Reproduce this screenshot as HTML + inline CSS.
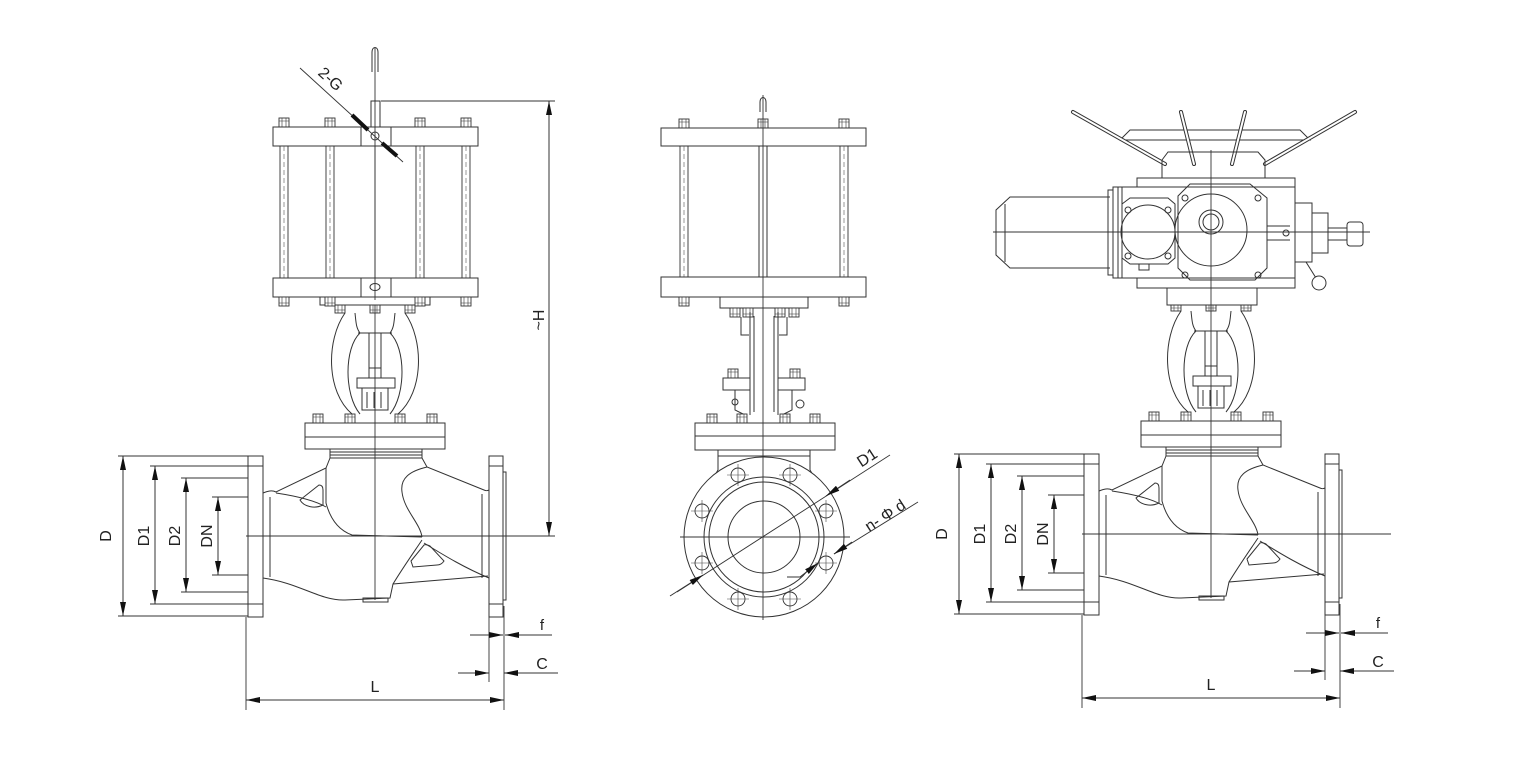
<!DOCTYPE html>
<html><head><meta charset="utf-8"><style>
html,body{margin:0;padding:0;background:#fff;}
svg{display:block;}
text{font-family:"Liberation Sans",sans-serif;fill:#222;}
</style></head><body>
<svg width="1539" height="767" viewBox="0 0 1539 767" xmlns="http://www.w3.org/2000/svg">
<defs>
<marker id="a" viewBox="0 0 14 6" refX="14" refY="3" markerWidth="14" markerHeight="6" markerUnits="userSpaceOnUse" orient="auto-start-reverse"><path d="M0,0 L14,3 L0,6 Z" fill="#111"/></marker>
<g id="nut"><rect x="-5" y="-9" width="10" height="9" fill="#fff" stroke="#333" stroke-width="0.9"/><path d="M-5,-6 H5 M-2,-9 V0 M2,-9 V0" stroke="#333" stroke-width="0.6"/></g>
<g id="nutd"><rect x="-5" y="0" width="10" height="9" fill="#fff" stroke="#333" stroke-width="0.9"/><path d="M-5,6 H5 M-2,0 V9 M2,0 V9" stroke="#333" stroke-width="0.6"/></g>
<g id="rod"><path d="M-4,0 V132 M4,0 V132" stroke="#333" stroke-width="0.9"/><path d="M0,0 V132" stroke="#555" stroke-width="0.6" stroke-dasharray="5,3"/></g>
<g id="hole"><circle r="7" fill="none" stroke="#333" stroke-width="0.9"/><path d="M-11,0 H11 M0,-11 V11" stroke="#444" stroke-width="0.6"/></g>
</defs>

<g id="lower" fill="none" stroke="#333" stroke-width="1">
 <use href="#nutd" x="340" y="304"/><use href="#nutd" x="375" y="304"/><use href="#nutd" x="410" y="304"/>
 <path d="M345,313 C326,340 326,392 352,414 M405,313 C424,340 424,392 398,414"/>
 <path d="M355,313 C356,322 356,328 360,333 M395,313 C394,322 394,328 390,333 M358,333 H392"/>
 <path d="M360,333 C344,348 344,395 360,414 M390,333 C406,348 406,395 390,414"/>
 <path d="M369,333 V378 M381,333 V378"/>
 <rect x="369" y="368" width="12" height="10" fill="#fff"/>
 <rect x="357" y="378" width="38" height="10" fill="#fff"/>
 <path d="M362,388 V410 H388 V388 M367,392 V408 M374,392 V408 M381,392 V408"/>
 <use href="#nut" x="318" y="423"/><use href="#nut" x="350" y="423"/><use href="#nut" x="400" y="423"/><use href="#nut" x="432" y="423"/>
 <rect x="305" y="423" width="140" height="26" fill="#fff"/>
 <path d="M305,437 H445"/>
 <path d="M330,449 V458 M422,449 V458 M330,452 H422 M330,455 H422 M330,458 H422"/>
 <path d="M263,493 C268,491 272,490 276,492 L326,468 L330,458"/>
 <path d="M326,468 V503 C330,518 338,530 352,535 L422,537"/>
 <path d="M422,458 L427,467 L484,490 C486,491 487,491 489,490"/>
 <path d="M427,467 C410,471 400,478 402,492 C404,510 420,523 422,537"/>
 <path d="M276,493 C296,496 314,500 326,507"/>
 <path d="M300,500 L319,485 C322,485 323,487 323,490 L323,505 C315,509 304,507 300,500 Z"/>
 <path d="M263,578 C300,583 320,601 345,600 L390,598 L393,584 L488,576"/>
 <path d="M422,540 C414,552 404,566 393,584"/>
 <path d="M411,561 L424,545 C426,544 428,545 430,546 L444,561 C442,564 440,565 437,565 L413,567 Z"/>
 <path d="M424,543 C445,556 465,568 489,578"/>
 <path d="M270,497 V577 M482,494 V578"/>
 <rect x="363" y="598" width="25" height="4"/>
 <rect x="248" y="456" width="15" height="161" fill="#fff"/>
 <path d="M248,466 H263 M248,604 H263"/>
 <rect x="489" y="456" width="14" height="161" fill="#fff"/>
 <path d="M489,466 H503 M489,604 H503 M503,472 H506 V600 H503"/>
 <path d="M246,536 H555" stroke-width="0.9"/>
 <path d="M375,290 V600" stroke-width="0.9"/>
 <path d="M118,456 H248 M118,616 H248 M150,466 H248 M150,604 H248 M181,478 H248 M181,592 H248 M212,497 H248 M212,575 H248" stroke-width="0.9"/>
 <path d="M246,617 V710 M489,617 V682 M504,606 V710" stroke-width="0.9"/>
 <path d="M123,456 V616" marker-start="url(#a)" marker-end="url(#a)"/>
 <path d="M155,466 V604" marker-start="url(#a)" marker-end="url(#a)"/>
 <path d="M186,478 V592" marker-start="url(#a)" marker-end="url(#a)"/>
 <path d="M218,497 V575" marker-start="url(#a)" marker-end="url(#a)"/>
 <path d="M246,700 H504" marker-start="url(#a)" marker-end="url(#a)"/>
 <path d="M470,635 H503" marker-end="url(#a)"/>
 <path d="M552,635 H505" marker-end="url(#a)"/>
 <path d="M458,673 H489" marker-end="url(#a)"/>
 <path d="M558,673 H504" marker-end="url(#a)"/>
 <text x="111" y="536" font-size="16" transform="rotate(-90 111 536)" text-anchor="middle" stroke="none">D</text>
 <text x="149" y="536" font-size="16" transform="rotate(-90 149 536)" text-anchor="middle" stroke="none">D1</text>
 <text x="180" y="536" font-size="16" transform="rotate(-90 180 536)" text-anchor="middle" stroke="none">D2</text>
 <text x="212" y="536" font-size="16" transform="rotate(-90 212 536)" text-anchor="middle" stroke="none">DN</text>
 <text x="375" y="692" font-size="16" text-anchor="middle" stroke="none">L</text>
 <text x="542" y="630" font-size="15" text-anchor="middle" stroke="none">f</text>
 <text x="542" y="669" font-size="16" text-anchor="middle" stroke="none">C</text>
</g>

<g fill="none" stroke="#333" stroke-width="1">
 <path d="M375,48 V290" stroke-width="0.9"/>
 <path d="M372,72 V52 C372,46 378,46 378,52 V72"/>
 <rect x="371" y="101" width="9" height="26" fill="#fff"/>
 <use href="#nut" x="284" y="127"/><use href="#nut" x="330" y="127"/><use href="#nut" x="420" y="127"/><use href="#nut" x="466" y="127"/>
 <rect x="273" y="127" width="205" height="19" fill="#fff"/>
 <path d="M361,127 V146 M391,127 V146"/>
 <circle cx="375" cy="136" r="4"/>
 <use href="#rod" x="284" y="146"/><use href="#rod" x="330" y="146"/><use href="#rod" x="420" y="146"/><use href="#rod" x="466" y="146"/>
 <rect x="273" y="278" width="205" height="19" fill="#fff"/>
 <path d="M361,278 V297 M391,278 V297"/>
 <ellipse cx="375" cy="287" rx="5" ry="3.5"/>
 <rect x="320" y="297" width="110" height="8" fill="#fff"/>
 <use href="#nutd" x="284" y="297"/><use href="#nutd" x="330" y="297"/><use href="#nutd" x="420" y="297"/><use href="#nutd" x="466" y="297"/>
 <path d="M375,100 V300" stroke-width="0.9"/>
 <path d="M381,101 H555" stroke-width="0.9"/>
 <path d="M549,101 V536" marker-start="url(#a)" marker-end="url(#a)"/>
 <text x="544" y="320" font-size="16" transform="rotate(-90 544 320)" text-anchor="middle" stroke="none">~H</text>
 <path d="M300,68 L403,162" stroke-width="0.9"/>
 <path d="M352,115 L368,130" stroke="#111" stroke-width="4"/>
 <path d="M382,143 L397,156" stroke="#111" stroke-width="4"/>
 <text x="327" y="83" font-size="16" transform="rotate(42 327 83)" text-anchor="middle" stroke="none">2-G</text>
</g>

<use href="#lower" transform="translate(836,-2)"/>

<g fill="none" stroke="#333" stroke-width="1">
 <path d="M760,112 V102 C760,96 766,96 766,102 V112"/>
 <use href="#nut" x="684" y="128"/><use href="#nut" x="763" y="128"/><use href="#nut" x="844" y="128"/>
 <rect x="661" y="128" width="205" height="18" fill="#fff"/>
 <use href="#rod" x="684" y="146"/><use href="#rod" x="844" y="146"/>
 <path d="M759,146 V277 M767,146 V277"/>
 <rect x="661" y="277" width="205" height="20" fill="#fff"/>
 <use href="#nutd" x="684" y="297"/><use href="#nutd" x="844" y="297"/>
 <rect x="720" y="297" width="88" height="11" fill="#fff"/>
 <use href="#nutd" x="735" y="308"/><use href="#nutd" x="748" y="308"/><use href="#nutd" x="780" y="308"/><use href="#nutd" x="794" y="308"/>
 <path d="M750,312 V415 M778,312 V415 M754,316 V412 M774,316 V412"/>
 <path d="M741,317 V335 H749 M787,317 V335 H779"/>
 <use href="#nut" x="733" y="378"/><use href="#nut" x="795" y="378"/>
 <rect x="723" y="378" width="27" height="12" fill="#fff"/><rect x="778" y="378" width="27" height="12" fill="#fff"/>
 <path d="M735,390 V410 L745,415 M792,390 V410 L782,415"/>
 <circle cx="735" cy="402" r="3"/><circle cx="800" cy="404" r="4"/>
 <use href="#nut" x="712" y="423"/><use href="#nut" x="742" y="423"/><use href="#nut" x="785" y="423"/><use href="#nut" x="815" y="423"/>
 <rect x="695" y="423" width="140" height="27" fill="#fff"/>
 <path d="M695,436 H835"/>
 <path d="M718,450 V470 L712,480 M810,450 V470 L816,480 M718,456 H810"/>
 <circle cx="764" cy="537" r="80" fill="#fff"/>
 <circle cx="764" cy="537" r="60"/>
 <circle cx="764" cy="537" r="55"/>
 <circle cx="764" cy="537" r="36"/>
 <path d="M680,537 H850" stroke-width="0.9"/>
 <path d="M763,95 V620" stroke-width="0.9"/>
 <use href="#hole" x="826" y="511"/><use href="#hole" x="790" y="475"/><use href="#hole" x="738" y="475"/><use href="#hole" x="702" y="511"/>
 <use href="#hole" x="702" y="563"/><use href="#hole" x="738" y="599"/><use href="#hole" x="790" y="599"/><use href="#hole" x="826" y="563"/>
 <path d="M677,592 L890,455" stroke-width="0.9"/>
 <path d="M670,596 L703,575" marker-end="url(#a)"/>
 <path d="M850,480 L826,496" marker-end="url(#a)"/>
 <path d="M787,577 H800 L818,563" marker-end="url(#a)"/>
 <path d="M918,502 L834,554" stroke-width="0.9"/>
 <path d="M852,542 L834,554" marker-end="url(#a)"/>
 <text x="870" y="462" font-size="16" transform="rotate(-33 870 462)" text-anchor="middle" stroke="none">D1</text>
 <text x="888" y="520" font-size="16" transform="rotate(-33 888 520)" text-anchor="middle" stroke="none">n- Φ d</text>
</g>

<g fill="none" stroke="#333" stroke-width="1">
 <path d="M1120,140 L1130,130 H1300 L1310,140 Z" fill="#fff"/>
 <path d="M1073,112 L1165,164 M1181,112 L1194,164 M1245,112 L1232,164 M1355,112 L1265,164" stroke-width="4" stroke-linecap="round"/>
 <path d="M1073,112 L1165,164 M1181,112 L1194,164 M1245,112 L1232,164 M1355,112 L1265,164" stroke="#fff" stroke-width="2" stroke-linecap="round"/>
 <path d="M1162,178 V160 L1168,152 H1258 L1265,160 V178"/>
 <rect x="1137" y="178" width="158" height="110" fill="#fff"/>
 <rect x="1113" y="187" width="182" height="91" fill="#fff"/>
 <path d="M1118,187 V278 M1122,187 V278"/>
 <path d="M1110,197 H1010 L996,210 V255 L1010,268 H1110"/>
 <path d="M1005,204 V262"/>
 <rect x="1108" y="190" width="5" height="85"/>
 <path d="M1122,204 L1130,198 H1168 L1175,204 V258 L1168,264 H1130 L1122,258 Z"/>
 <circle cx="1148" cy="232" r="27"/>
 <circle cx="1128" cy="210" r="3"/><circle cx="1168" cy="210" r="3"/><circle cx="1128" cy="256" r="3"/><circle cx="1168" cy="256" r="3"/>
 <rect x="1139" y="264" width="10" height="6"/>
 <path d="M1178,196 L1190,184 H1250 L1267,198 V268 L1255,280 H1190 L1178,268 Z"/>
 <circle cx="1211" cy="230" r="36"/>
 <circle cx="1211" cy="222" r="12"/><circle cx="1211" cy="222" r="8"/>
 <circle cx="1185" cy="198" r="3"/><circle cx="1258" cy="198" r="3"/><circle cx="1185" cy="275" r="3"/><circle cx="1258" cy="275" r="3"/>
 <path d="M1267,226 H1290 M1267,240 H1290"/><circle cx="1286" cy="233" r="3"/>
 <rect x="1295" y="203" width="17" height="59" fill="#fff"/>
 <rect x="1312" y="213" width="16" height="40" fill="#fff"/>
 <rect x="1328" y="228" width="20" height="12" fill="#fff"/>
 <rect x="1347" y="222" width="16" height="24" rx="3" fill="#fff"/>
 <path d="M1306,262 L1316,278"/><circle cx="1319" cy="283" r="7" fill="#fff"/>
 <path d="M993,232 H1370" stroke-width="0.9"/>
 <rect x="1167" y="288" width="90" height="17" fill="#fff"/>
 <path d="M1211,150 V310" stroke-width="0.9"/>
</g>
</svg>
</body></html>
